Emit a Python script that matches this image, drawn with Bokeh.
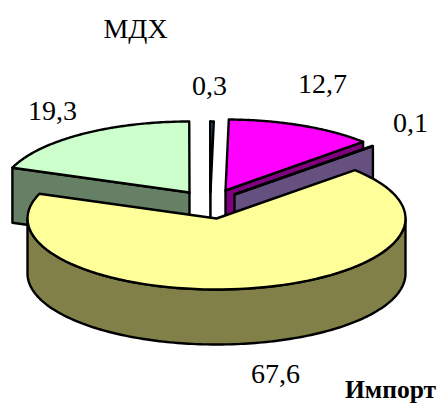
import numpy as np
from bokeh.plotting import figure
from bokeh.core.properties import value
from bokeh.embed import file_html
from bokeh.resources import INLINE

names = ["magenta", "purple", "yellow", "green", "sliver"]
values = [12.7, 0.1, 67.6, 19.3, 0.3]
labels = ["12,7", "0,1", "67,6", "19,3", "0,3"]
title = "МДХ"
note = "Импорт"

top_colors = {"magenta": "#ff00ff", "purple": "#6a5585", "yellow": "#ffff99", "green": "#ccffcc", "sliver": "#336699"}
side_colors = {"magenta": "#800080", "purple": "#665080", "yellow": "#808048", "green": "#668066", "sliver": "#1a334d"}
centers = {"magenta": (225, 190), "purple": (234, 194), "yellow": (216, 218), "green": (189, 192), "sliver": (210, 192)}
RX, RY, DEPTH = 189, 71, 55
START = 1.0

label_pos = [(322, 83), (410, 122), (275, 373), (52, 110), (209, 85)]

ang = {}
a = START
for n, v in zip(names, values):
    ang[n] = (a, a + v * 3.6)
    a += v * 3.6


def pt(n, t):
    cx, cy = centers[n]
    r = np.radians(t)
    return cx + RX * np.sin(r), cy - RY * np.cos(r)


def top_face(n):
    t0, t1 = ang[n]
    ts = np.linspace(t0, t1, 90)
    x, y = pt(n, ts)
    cx, cy = centers[n]
    return [cx, *x], [cy, *y]


def radial_wall(n, t):
    cx, cy = centers[n]
    x, y = pt(n, t)
    return [cx, x, x, cx], [cy, y, y + DEPTH, cy + DEPTH]


def arc_wall(n, t0, t1):
    ts = np.linspace(t0, t1, 160)
    x, y = pt(n, ts)
    return [*x, *x[::-1]], [*y, *(y + DEPTH)[::-1]]


p = figure(width=438, height=405, x_range=(0, 438), y_range=(405, 0),
           output_backend="svg", toolbar_location=None, min_border=0)
p.axis.visible = False
p.grid.visible = False
p.outline_line_color = None
p.background_fill_color = "white"


def draw(xy, color):
    p.patch(xy[0], xy[1], fill_color=color, line_color="black", line_width=2.4, line_join="round")


for n, t in [("green", ang["green"][0]), ("sliver", ang["sliver"][0]),
             ("magenta", ang["magenta"][1])]:
    draw(radial_wall(n, t), side_colors[n])
for n in ["green", "sliver", "magenta"]:
    draw(top_face(n), top_colors[n])
draw(radial_wall("purple", ang["purple"][1]), side_colors["purple"])
draw(top_face("purple"), top_colors["purple"])
draw(arc_wall("yellow", 90, 270), side_colors["yellow"])
draw(top_face("yellow"), top_colors["yellow"])

serif = value("Liberation Serif")
p.text([q[0] for q in label_pos], [q[1] for q in label_pos], text=labels, text_font=serif,
       text_font_size="28px", text_align="center", text_baseline="middle", text_color="black")
p.text([135], [28], text=[title], text_font=serif, text_font_size="28px",
       text_align="center", text_baseline="middle", text_color="black")
p.text([390], [389], text=[note], text_font=serif, text_font_size="25.5px", text_font_style="bold",
       text_align="center", text_baseline="middle", text_color="black")

open("out.html", "w").write(file_html(p, INLINE))
